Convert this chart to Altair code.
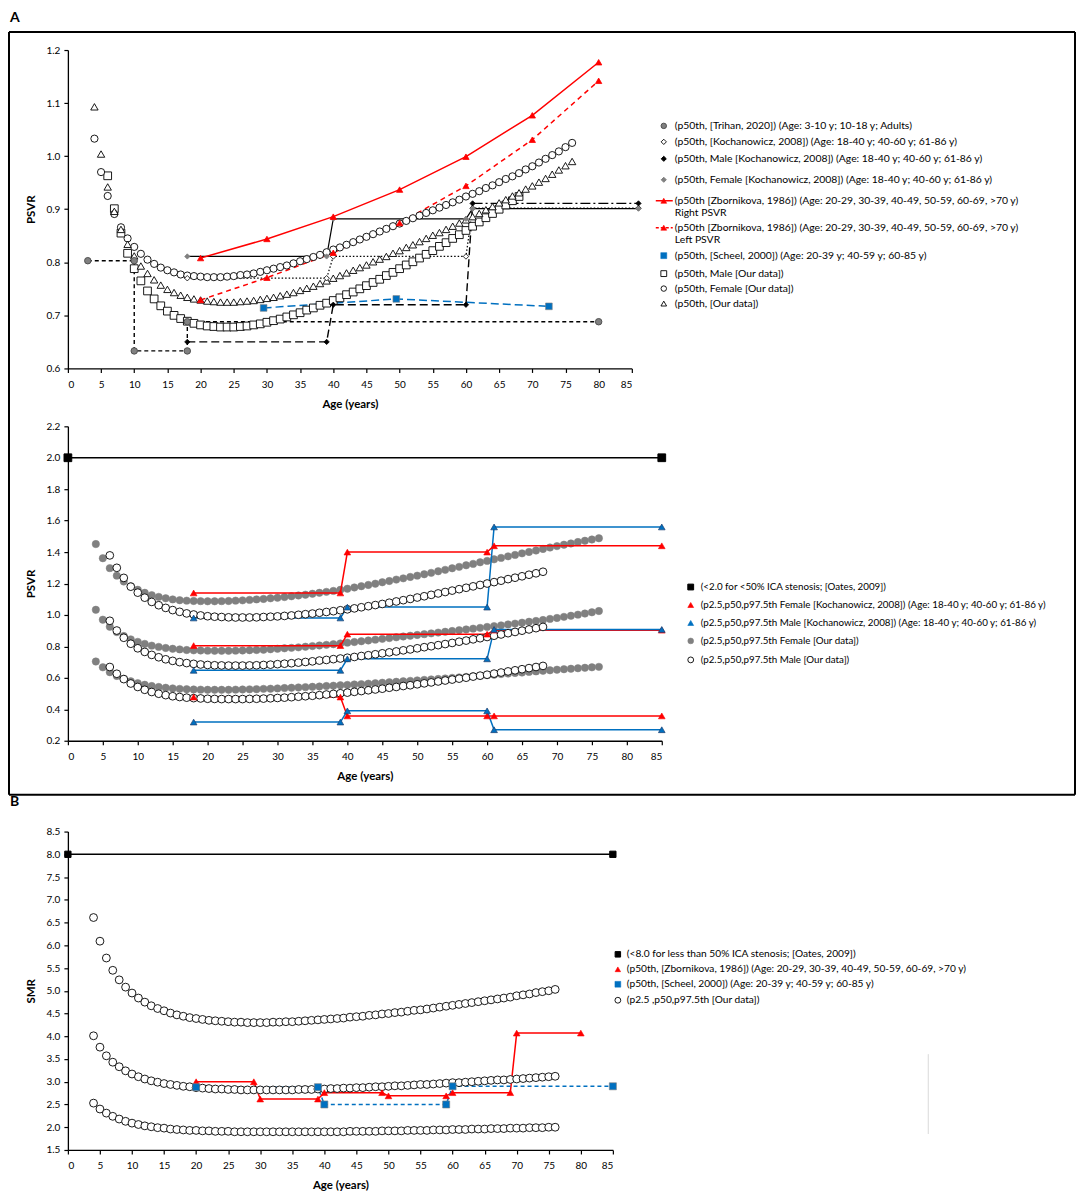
import altair as alt
import pandas as pd

FONT = "Lato"
RED = "#FF0000"
BLUE = "#0070C0"
GRAY = "#808080"
DKGRAY = "#505050"

# ---------------- DATA : panel A (top) PSVR p50 ----------------
psvr_female_p50 = [1.033, 0.970, 0.925, 0.891, 0.866, 0.845, 0.829, 0.816, 0.805, 0.797,
                   0.790, 0.785, 0.781, 0.777, 0.775, 0.774, 0.773, 0.772, 0.772, 0.772,
                   0.773, 0.774, 0.776, 0.777, 0.779, 0.782, 0.785, 0.788, 0.791, 0.794,
                   0.798, 0.802, 0.806, 0.810, 0.814, 0.819, 0.824, 0.828, 0.833, 0.838,
                   0.843, 0.848, 0.853, 0.858, 0.863, 0.868, 0.873, 0.878, 0.883, 0.888,
                   0.893, 0.898, 0.903, 0.908, 0.913, 0.918, 0.924, 0.929, 0.934, 0.940,
                   0.945, 0.951, 0.957, 0.962, 0.968, 0.975, 0.981, 0.988, 0.995, 1.002,
                   1.009, 1.017, 1.025]
psvr_all_p50 = [1.093, 1.004, 0.942, 0.896, 0.862, 0.834, 0.812, 0.793, 0.779, 0.767,
                0.757, 0.749, 0.743, 0.738, 0.734, 0.731, 0.729, 0.727, 0.726, 0.725,
                0.725, 0.725, 0.726, 0.727, 0.728, 0.730, 0.732, 0.734, 0.737, 0.740,
                0.743, 0.747, 0.751, 0.755, 0.760, 0.765, 0.770, 0.775, 0.780, 0.785,
                0.790, 0.795, 0.801, 0.806, 0.811, 0.817, 0.822, 0.828, 0.833, 0.839,
                0.845, 0.851, 0.856, 0.862, 0.868, 0.874, 0.880, 0.886, 0.892, 0.899,
                0.905, 0.912, 0.918, 0.925, 0.931, 0.938, 0.944, 0.951, 0.958, 0.966,
                0.974, 0.982, 0.990]
psvr_male_p50 = [0.963, 0.901, 0.855, 0.817, 0.788, 0.765, 0.746, 0.731, 0.718, 0.708,
                 0.700, 0.694, 0.689, 0.685, 0.682, 0.680, 0.679, 0.678, 0.678, 0.678,
                 0.679, 0.680, 0.682, 0.684, 0.687, 0.690, 0.693, 0.697, 0.701, 0.705,
                 0.710, 0.714, 0.719, 0.723, 0.728, 0.733, 0.739, 0.744, 0.750, 0.756,
                 0.762, 0.768, 0.775, 0.781, 0.788, 0.795, 0.801, 0.808, 0.815, 0.822,
                 0.830, 0.837, 0.845, 0.852, 0.860, 0.868, 0.876, 0.884, 0.892, 0.900,
                 0.908, 0.916, 0.924]
FEMALE_START_AGE = 4
MALE_START_AGE = 6

trihan_age = [3, 10, 10, 18, 18, 80]
trihan_val = [0.803, 0.803, 0.633, 0.633, 0.688, 0.688]

koch_age = [18, 39, 40, 60, 61, 86]
koch_all_val = [0.770, 0.770, 0.811, 0.811, 0.902, 0.902]
koch_male_val = [0.650, 0.650, 0.720, 0.720, 0.911, 0.911]
koch_female_val = [0.811, 0.811, 0.882, 0.882, 0.901, 0.901]

zborn_age = [20, 30, 40, 50, 60, 70, 80]
zborn_right = [0.808, 0.844, 0.886, 0.937, 0.999, 1.077, 1.177]
zborn_left = [0.729, 0.771, 0.818, 0.874, 0.944, 1.031, 1.142]

scheel_age = [29.5, 49.5, 72.5]
scheel_psvr = [0.714, 0.731, 0.717]

# ---------------- DATA : panel A (middle) PSVR percentiles ----------------
psvr_female_p975 = [1.451, 1.361, 1.298, 1.250, 1.213, 1.183, 1.160, 1.141, 1.126, 1.115,
                    1.106, 1.099, 1.094, 1.091, 1.089, 1.088, 1.087, 1.087, 1.088, 1.089,
                    1.091, 1.093, 1.096, 1.099, 1.102, 1.106, 1.110, 1.114, 1.119, 1.124,
                    1.129, 1.135, 1.141, 1.147, 1.153, 1.160, 1.167, 1.175, 1.183, 1.191,
                    1.199, 1.208, 1.216, 1.225, 1.233, 1.242, 1.250, 1.259, 1.268, 1.278,
                    1.287, 1.297, 1.306, 1.316, 1.325, 1.335, 1.344, 1.354, 1.363, 1.373,
                    1.382, 1.392, 1.401, 1.410, 1.420, 1.429, 1.438, 1.447, 1.455, 1.464,
                    1.472, 1.480, 1.488]
psvr_female_p25 = [0.704, 0.667, 0.636, 0.612, 0.594, 0.578, 0.566, 0.556, 0.548, 0.542,
                   0.537, 0.533, 0.530, 0.528, 0.526, 0.525, 0.524, 0.524, 0.524, 0.524,
                   0.525, 0.526, 0.527, 0.528, 0.530, 0.531, 0.533, 0.535, 0.537, 0.539,
                   0.541, 0.543, 0.545, 0.548, 0.550, 0.553, 0.555, 0.558, 0.560, 0.563,
                   0.566, 0.569, 0.572, 0.575, 0.578, 0.581, 0.584, 0.587, 0.590, 0.593,
                   0.596, 0.600, 0.603, 0.606, 0.610, 0.613, 0.617, 0.620, 0.624, 0.627,
                   0.631, 0.634, 0.638, 0.641, 0.645, 0.648, 0.652, 0.655, 0.658, 0.661,
                   0.664, 0.667, 0.670]
psvr_male_p975 = [1.379, 1.300, 1.236, 1.180, 1.142, 1.110, 1.083, 1.062, 1.045, 1.031,
                  1.020, 1.010, 1.003, 0.997, 0.992, 0.989, 0.987, 0.985, 0.984, 0.984,
                  0.984, 0.985, 0.987, 0.989, 0.991, 0.994, 0.997, 1.001, 1.005, 1.009,
                  1.014, 1.019, 1.024, 1.030, 1.036, 1.042, 1.049, 1.056, 1.063, 1.070,
                  1.078, 1.086, 1.094, 1.102, 1.111, 1.119, 1.128, 1.137, 1.146, 1.155,
                  1.164, 1.173, 1.182, 1.191, 1.200, 1.209, 1.218, 1.228, 1.237, 1.246,
                  1.256, 1.265, 1.275]
psvr_male_p25 = [0.669, 0.626, 0.592, 0.564, 0.542, 0.524, 0.510, 0.499, 0.490, 0.483,
                 0.478, 0.474, 0.471, 0.469, 0.467, 0.466, 0.465, 0.465, 0.465, 0.465,
                 0.466, 0.467, 0.468, 0.470, 0.472, 0.474, 0.477, 0.480, 0.483, 0.486,
                 0.490, 0.494, 0.498, 0.502, 0.506, 0.511, 0.516, 0.521, 0.526, 0.531,
                 0.537, 0.542, 0.548, 0.553, 0.559, 0.565, 0.571, 0.577, 0.583, 0.589,
                 0.595, 0.601, 0.608, 0.614, 0.620, 0.627, 0.634, 0.641, 0.648, 0.655,
                 0.662, 0.669, 0.676]

oates_age = [0, 85]
oates_psvr = [2.0, 2.0]
koch_pct_age = [18, 39, 40, 60, 61, 85]
koch_f_p975 = [1.140, 1.140, 1.400, 1.400, 1.440, 1.440]
koch_f_p50 = [0.805, 0.805, 0.878, 0.878, 0.903, 0.903]
koch_f_p25 = [0.478, 0.478, 0.358, 0.358, 0.358, 0.358]
koch_m_p975 = [0.981, 0.981, 1.050, 1.050, 1.560, 1.560]
koch_m_p50 = [0.648, 0.648, 0.721, 0.721, 0.908, 0.908]
koch_m_p25 = [0.319, 0.319, 0.390, 0.390, 0.270, 0.270]

# ---------------- DATA : panel B SMR ----------------
smr_p975 = [6.61, 6.09, 5.72, 5.45, 5.24, 5.08, 4.95, 4.84, 4.75, 4.67,
            4.61, 4.56, 4.51, 4.47, 4.44, 4.41, 4.39, 4.37, 4.35, 4.34,
            4.33, 4.32, 4.31, 4.31, 4.30, 4.30, 4.30, 4.30, 4.31, 4.31,
            4.32, 4.32, 4.33, 4.34, 4.35, 4.36, 4.37, 4.38, 4.39, 4.40,
            4.42, 4.43, 4.44, 4.46, 4.47, 4.49, 4.50, 4.52, 4.53, 4.55,
            4.57, 4.58, 4.60, 4.62, 4.64, 4.66, 4.68, 4.70, 4.72, 4.74,
            4.76, 4.78, 4.80, 4.82, 4.84, 4.86, 4.89, 4.91, 4.93, 4.96,
            4.98, 5.00, 5.03]
smr_p50 = [4.01, 3.76, 3.57, 3.43, 3.33, 3.24, 3.17, 3.11, 3.06, 3.02,
           2.99, 2.96, 2.94, 2.92, 2.90, 2.89, 2.87, 2.86, 2.85, 2.84,
           2.84, 2.83, 2.83, 2.82, 2.82, 2.82, 2.82, 2.82, 2.82, 2.82,
           2.82, 2.82, 2.83, 2.83, 2.83, 2.84, 2.84, 2.85, 2.85, 2.86,
           2.86, 2.87, 2.87, 2.88, 2.89, 2.89, 2.90, 2.91, 2.91, 2.92,
           2.93, 2.94, 2.94, 2.95, 2.96, 2.97, 2.98, 2.98, 2.99, 3.00,
           3.01, 3.02, 3.03, 3.04, 3.04, 3.05, 3.06, 3.07, 3.08, 3.09,
           3.10, 3.11, 3.12]
smr_p25 = [2.53, 2.40, 2.31, 2.24, 2.18, 2.13, 2.09, 2.06, 2.03, 2.01,
           1.99, 1.98, 1.96, 1.95, 1.94, 1.93, 1.93, 1.92, 1.92, 1.91,
           1.91, 1.91, 1.90, 1.90, 1.90, 1.90, 1.90, 1.90, 1.90, 1.90,
           1.90, 1.90, 1.90, 1.90, 1.90, 1.90, 1.90, 1.90, 1.90, 1.90,
           1.91, 1.91, 1.91, 1.91, 1.91, 1.92, 1.92, 1.92, 1.92, 1.93,
           1.93, 1.93, 1.93, 1.94, 1.94, 1.94, 1.95, 1.95, 1.95, 1.96,
           1.96, 1.96, 1.97, 1.97, 1.97, 1.98, 1.98, 1.98, 1.99, 1.99,
           1.99, 2.00, 2.00]
oates_smr = [8.0, 8.0]
zborn_smr_age = [20, 29, 30, 39, 40, 49, 50, 59, 60, 69, 70, 80]
zborn_smr = [3.00, 3.00, 2.62, 2.62, 2.76, 2.76, 2.69, 2.69, 2.76, 2.76, 4.07, 4.07]
scheel_smr_age = [20, 39, 40, 59, 60, 85]
scheel_smr = [2.88, 2.88, 2.50, 2.50, 2.90, 2.90]

# ---------------- TEXT ----------------
legend_top = [
    "(p50th, [Trihan, 2020]) (Age: 3-10 y; 10-18 y; Adults)",
    "(p50th, [Kochanowicz, 2008]) (Age: 18-40 y; 40-60 y; 61-86 y)",
    "(p50th, Male [Kochanowicz, 2008]) (Age: 18-40 y; 40-60 y; 61-86 y)",
    "(p50th, Female [Kochanowicz, 2008]) (Age: 18-40 y; 40-60 y; 61-86 y)",
    "(p50th [Zbornikova, 1986]) (Age: 20-29, 30-39, 40-49, 50-59, 60-69, >70 y)",
    "(p50th [Zbornikova, 1986]) (Age: 20-29, 30-39, 40-49, 50-59, 60-69, >70 y)",
    "(p50th, [Scheel, 2000]) (Age: 20-39 y; 40-59 y; 60-85 y)",
    "(p50th, Male [Our data])",
    "(p50th, Female [Our data])",
    "(p50th, [Our data])",
]
legend_top_sub = ["Right PSVR", "Left PSVR"]
legend_mid = [
    "(<2.0 for <50% ICA stenosis; [Oates, 2009])",
    "(p2.5,p50,p97.5th Female [Kochanowicz, 2008]) (Age: 18-40 y; 40-60 y; 61-86 y)",
    "(p2.5,p50,p97.5th  Male [Kochanowicz, 2008]) (Age: 18-40 y; 40-60 y; 61-86 y)",
    "(p2.5,p50,p97.5th Female [Our data])",
    "(p2.5,p50,p97.5th Male [Our data])",
]
legend_bot = [
    "(<8.0 for less than 50% ICA stenosis; [Oates, 2009])",
    "(p50th, [Zbornikova, 1986]) (Age: 20-29, 30-39, 40-49, 50-59, 60-69, >70 y)",
    "(p50th, [Scheel, 2000])  (Age: 20-39 y; 40-59 y; 60-85 y)",
    "(p2.5 ,p50,p97.5th [Our data])",
]
AGE_TICKS = list(range(0, 90, 5))

# ---------------- LAYOUT (pixels) ----------------
TOP_W, TOP_H = 565, 319
MID_W, MID_H = 595, 315
MID_EXTRA = 33          # extra gap below the middle panel
BOT_W, BOT_H = 546, 319
LEG_FS = 10.4
LEG_FS_MID = 9.8
LEG_FS_BOT = 10.2


def encs(ydom, yticks, ytitle, yrange=None, xoffset=0):
    x = alt.X("age:Q", scale=alt.Scale(domain=[0, 85], nice=False, zero=False),
              axis=alt.Axis(values=AGE_TICKS, format="d", title="Age (years)",
                            titleY=39, titleBaseline="alphabetic", labelPadding=7,
                            offset=xoffset))
    sc = dict(domain=ydom, nice=False, zero=False)
    if yrange is not None:
        sc["range"] = yrange
    y = alt.Y("v:Q", scale=alt.Scale(**sc),
              axis=alt.Axis(values=yticks, format=".1f", title=ytitle,
                            titleX=-31, labelPadding=4))
    return x, y


def frame(ages, vals):
    return pd.DataFrame({"age": ages, "v": vals, "o": list(range(len(ages)))})


def line(enc, ages, vals, color, width=1.4, dash=None):
    props = dict(color=color, strokeWidth=width)
    if dash is not None:
        props["strokeDash"] = dash
    return alt.Chart(frame(ages, vals)).mark_line(**props).encode(
        x=enc[0], y=enc[1], order="o:Q")


def pts(enc, ages, vals, shape, fill, stroke, size, sw=1.0):
    return alt.Chart(frame(ages, vals)).mark_point(
        shape=shape, filled=True, fill=fill, stroke=stroke, strokeWidth=sw,
        size=size, opacity=1).encode(x=enc[0], y=enc[1])


ONE = pd.DataFrame({"k": [0]})


def lpt(px, py, shape, fill, stroke, size, sw=1.0):
    return alt.Chart(ONE).mark_point(
        shape=shape, filled=True, fill=fill, stroke=stroke, strokeWidth=sw,
        size=size, opacity=1).encode(x=alt.value(px), y=alt.value(py))


def ltx(px, py, txt, fs=LEG_FS, weight="normal", baseline="middle"):
    return alt.Chart(pd.DataFrame({"t": [txt]})).mark_text(
        align="left", baseline=baseline, font=FONT, fontSize=fs,
        fontWeight=weight, color="black").encode(
        x=alt.value(px), y=alt.value(py), text="t:N")


def hrule(x1, x2, y, color="black", width=1.4, dash=None):
    props = dict(color=color, strokeWidth=width)
    if dash is not None:
        props["strokeDash"] = dash
    return alt.Chart(ONE).mark_rule(**props).encode(
        x=alt.value(x1), x2=alt.value(x2), y=alt.value(y))


def vrule(x, y1, y2, color="black", width=1.4):
    return alt.Chart(ONE).mark_rule(color=color, strokeWidth=width).encode(
        x=alt.value(x), y=alt.value(y1), y2=alt.value(y2))


def ages_from(start, vals):
    return list(range(start, start + len(vals)))


# ================= TOP PANEL =================
e = encs([0.6, 1.2], [0.6, 0.7, 0.8, 0.9, 1.0, 1.1, 1.2], "PSVR")
fa = ages_from(FEMALE_START_AGE, psvr_female_p50)
ma = ages_from(MALE_START_AGE, psvr_male_p50)
top_layers = [
    line(e, trihan_age, trihan_val, "black", 1.4, [4, 3]),
    line(e, koch_age, koch_all_val, "black", 1.2, [1.5, 2]),
    line(e, koch_age[:5], koch_male_val[:5], "black", 1.4, [8, 4]),
    line(e, koch_age[4:], koch_male_val[4:], "black", 1.4, [10, 3, 2, 3]),
    line(e, koch_age, koch_female_val, "black", 1.2),
    line(e, zborn_age, zborn_right, RED, 1.5),
    line(e, zborn_age, zborn_left, RED, 1.5, [5, 4]),
    line(e, scheel_age, scheel_psvr, BLUE, 1.5, [8, 4]),
    pts(e, ma, psvr_male_p50, "square", "white", "black", 60, 0.9),
    pts(e, fa, psvr_female_p50, "circle", "white", "black", 52, 0.9),
    pts(e, fa, psvr_all_p50, "triangle-up", "white", "black", 55, 0.9),
    pts(e, trihan_age, trihan_val, "circle", GRAY, DKGRAY, 42, 1),
    pts(e, koch_age, koch_all_val, "diamond", "white", "black", 30, 0.8),
    pts(e, koch_age, koch_male_val, "diamond", "black", "black", 28, 0.8),
    pts(e, koch_age, koch_female_val, "diamond", GRAY, GRAY, 28, 0.8),
    pts(e, zborn_age, zborn_right, "triangle-up", RED, RED, 40, 0.8),
    pts(e, zborn_age, zborn_left, "triangle-up", RED, RED, 40, 0.8),
    pts(e, scheel_age, scheel_psvr, "square", BLUE, "#7f7f7f", 45, 0.6),
]
# legend (top)
LX, TX = 597, 608
LY = [76, 92, 109, 130, 151, 178, 206, 224, 239, 254]
top_layers += [
    lpt(LX, LY[0], "circle", GRAY, DKGRAY, 30),
    lpt(LX, LY[1], "diamond", "white", "black", 28, 0.9),
    lpt(LX, LY[2], "diamond", "black", "black", 26),
    lpt(LX, LY[3], "diamond", GRAY, GRAY, 26),
    hrule(LX - 8, LX + 9, LY[4], RED, 1.5),
    lpt(LX, LY[4], "triangle-up", RED, RED, 34, 0.6),
    hrule(LX - 8, LX + 9, LY[5], RED, 1.5, [3, 2]),
    lpt(LX, LY[5], "triangle-up", RED, RED, 34, 0.6),
    lpt(LX, LY[6], "square", BLUE, BLUE, 36, 0.5),
    lpt(LX, LY[7], "square", "white", "black", 34, 0.9),
    lpt(LX, LY[8], "circle", "white", "black", 30, 0.9),
    lpt(LX, LY[9], "triangle-up", "white", "black", 32, 0.9),
]
for i, t in enumerate(legend_top):
    top_layers.append(ltx(TX, LY[i], t))
top_layers.append(ltx(TX, LY[4] + 12, legend_top_sub[0]))
top_layers.append(ltx(TX, LY[5] + 12, legend_top_sub[1]))
# panel A frame and label
BOX_L, BOX_R, BOX_T, BOX_B = -59, 1009, -18, 746
top_layers += [
    hrule(BOX_L, BOX_R, BOX_T, "black", 2),
    hrule(BOX_L, BOX_R, BOX_B, "black", 2),
    vrule(BOX_L, BOX_T, BOX_B, "black", 2),
    vrule(BOX_R, BOX_T, BOX_B, "black", 2),
    ltx(-58, -39, "A", 14, "bold", "top"),
]
top = alt.layer(*top_layers).properties(width=TOP_W, height=TOP_H)

# ================= MIDDLE PANEL =================
e = encs([0.2, 2.2], [0.2, 0.4, 0.6, 0.8, 1.0, 1.2, 1.4, 1.6, 1.8, 2.0, 2.2], "PSVR",
         yrange=[MID_H, 0], xoffset=-MID_EXTRA)
mid_layers = [
    line(e, oates_age, oates_psvr, "black", 1.4),
    pts(e, fa, psvr_female_p975, "circle", GRAY, GRAY, 55, 0.5),
    pts(e, fa, psvr_female_p50, "circle", GRAY, GRAY, 55, 0.5),
    pts(e, fa, psvr_female_p25, "circle", GRAY, GRAY, 55, 0.5),
]
for vals in (koch_f_p975, koch_f_p50, koch_f_p25):
    mid_layers.append(line(e, koch_pct_age, vals, RED, 1.5))
for vals in (koch_m_p975, koch_m_p50, koch_m_p25):
    mid_layers.append(line(e, koch_pct_age, vals, BLUE, 1.5))
mid_layers += [
    pts(e, ma, psvr_male_p975, "circle", "white", "black", 60, 0.9),
    pts(e, ma, psvr_male_p50, "circle", "white", "black", 60, 0.9),
    pts(e, ma, psvr_male_p25, "circle", "white", "black", 60, 0.9),
    pts(e, oates_age, oates_psvr, "square", "black", "black", 60),
]
for vals in (koch_f_p975, koch_f_p50, koch_f_p25):
    mid_layers.append(pts(e, koch_pct_age, vals, "triangle-up", RED, RED, 45, 0.6))
for vals in (koch_m_p975, koch_m_p50, koch_m_p25):
    mid_layers.append(pts(e, koch_pct_age, vals, "triangle-up", BLUE, "#1f3f6f", 45, 0.7))
MLX, MTX = 624, 634
MLY = [161, 179, 197, 215, 234]
mid_layers += [
    lpt(MLX, MLY[0], "square", "black", "black", 34),
    lpt(MLX, MLY[1], "triangle-up", RED, RED, 34, 0.6),
    lpt(MLX, MLY[2], "triangle-up", BLUE, BLUE, 34, 0.6),
    lpt(MLX, MLY[3], "circle", GRAY, GRAY, 34, 0.5),
    lpt(MLX, MLY[4], "circle", "white", "black", 34, 0.9),
]
for i, t in enumerate(legend_mid):
    mid_layers.append(ltx(MTX, MLY[i], t, LEG_FS_MID))
mid = alt.layer(*mid_layers).properties(width=MID_W, height=MID_H + MID_EXTRA)

# ================= BOTTOM PANEL (B) =================
e = encs([1.5, 8.5], [1.5, 2.0, 2.5, 3.0, 3.5, 4.0, 4.5, 5.0, 5.5, 6.0, 6.5, 7.0, 7.5, 8.0, 8.5], "SMR")
sa = ages_from(FEMALE_START_AGE, smr_p50)
bot_layers = [
    line(e, oates_age, oates_smr, "black", 1.4),
    line(e, zborn_smr_age, zborn_smr, RED, 1.5),
    line(e, scheel_smr_age, scheel_smr, BLUE, 1.5, [4, 3]),
    pts(e, sa, smr_p975, "circle", "white", "black", 62, 0.9),
    pts(e, sa, smr_p50, "circle", "white", "black", 62, 0.9),
    pts(e, sa, smr_p25, "circle", "white", "black", 62, 0.9),
    pts(e, oates_age, oates_smr, "square", "black", "black", 40),
    pts(e, zborn_smr_age, zborn_smr, "triangle-up", RED, RED, 45, 0.6),
    pts(e, scheel_smr_age, scheel_smr, "square", BLUE, "#7f7f7f", 50, 0.6),
]
BLX, BTX = 551, 560
BLY = [123, 138, 153, 169]
bot_layers += [
    lpt(BLX, BLY[0], "square", "black", "black", 30),
    lpt(BLX, BLY[1], "triangle-up", RED, RED, 30, 0.6),
    lpt(BLX, BLY[2], "square", BLUE, BLUE, 34, 0.5),
    lpt(BLX, BLY[3], "circle", "white", "black", 34, 0.9),
]
for i, t in enumerate(legend_bot):
    bot_layers.append(ltx(BTX, BLY[i], t, LEG_FS_BOT))
bot_layers += [
    ltx(-58, -37, "B", 14, "bold", "top"),
    vrule(862, 223, 303, "#d9d9d9", 1),
]
bot = alt.layer(*bot_layers).properties(width=BOT_W, height=BOT_H)

chart = alt.vconcat(top, mid, bot, spacing=58, bounds="flush",
                    padding={"left": 0, "top": 2, "right": 0, "bottom": 0}).configure(
    font=FONT
).configure_view(stroke=None).configure_axis(
    domainColor="black", tickColor="black", labelColor="black", titleColor="black",
    labelFont=FONT, titleFont=FONT, labelFontSize=10, titleFontSize=11.5,
    titleFontWeight="bold", grid=False, tickSize=4, domainWidth=1.3, tickWidth=1.2
)

chart.save("out.html", embed_options={"renderer": "svg", "actions": False})
